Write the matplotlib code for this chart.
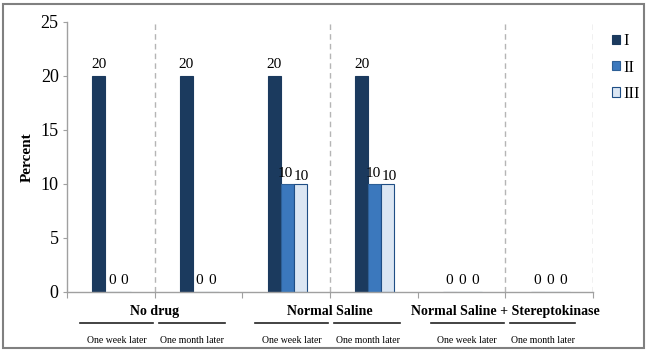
import matplotlib
matplotlib.use("Agg")
import matplotlib.pyplot as plt
from matplotlib.patches import Rectangle
import numpy as np

plt.rcParams['font.family'] = ['Liberation Serif', 'DejaVu Serif']

groups = ["No drug", "Normal Saline", "Normal Saline + Stereptokinase"]
times = ["One week later", "One month later"]
series_names = ["I", "II", "III"]
vals_I = [20, 20, 20, 20, 0, 0]
vals_II = [0, 0, 10, 10, 0, 0]
vals_III = [0, 0, 10, 10, 0, 0]
y_ticks = [0, 5, 10, 15, 20, 25]

colors = ["#1b3a5e", "#3b78bd", "#dbe6f3"]
edges = ["#1b3a5e", "#2d5f96", "#1f4e85"]

fig = plt.figure(figsize=(6.47, 3.5), dpi=100)
ax = fig.add_axes([67/647, 1-292/350, (593-67)/647, (292-22)/350])

n = len(vals_I)
x = np.arange(n)
w = 0.148
for k, (vals, name) in enumerate(zip([vals_I, vals_II, vals_III], series_names)):
    xs = x + (k - 1) * w + 0.01
    ax.bar(xs, vals, w, color=colors[k], edgecolor=edges[k], linewidth=0.8, label=name)
    for xi, v in zip(xs, vals):
        if k == 1 and v == 10:
            ax.text(xi - 0.02, v + 0.35, str(v), ha='center', va='bottom', fontsize=11)
        elif k == 2 and v == 10:
            ax.text(xi + 0.02, v + 0.05, str(v), ha='center', va='bottom', fontsize=11)
        else:
            ax.text(xi, v + 0.45, str(v), ha='center', va='bottom', fontsize=11)

ax.set_xlim(-0.5, n - 0.5)
ax.set_ylim(0, 25)
ax.set_yticks(y_ticks)
ax.set_yticklabels([str(t) for t in y_ticks], fontsize=13)
ax.set_xticks(np.arange(-0.5, n, 1.0))
ax.set_xticklabels([])
ax.tick_params(axis='x', length=4, color='#a0a0a0', direction='out')
ax.tick_params(axis='y', length=3, color='#a0a0a0', pad=3)
ax.set_ylabel("Percent", fontsize=11, fontweight='bold', labelpad=5)

for s in ['top', 'right']:
    ax.spines[s].set_visible(False)
for s in ['left', 'bottom']:
    ax.spines[s].set_color('#a0a0a0')
    ax.spines[s].set_linewidth(1.0)

for xv in [0.5, 2.5, 4.5, 5.5]:
    ax.axvline(xv, color='#b5b5b5', linestyle=(0, (4, 3)), linewidth=1.0, zorder=0)

trans = ax.get_xaxis_transform()
for gi, g in enumerate(groups):
    base = 2 * gi
    ax.text(base + 0.5, -0.072, g, transform=trans, ha='center', va='center',
            fontsize=10, fontweight='bold', clip_on=False)
    ax.plot([base - 0.35, base + 0.48], [-0.115, -0.115], transform=trans,
            color='#222222', lw=1.2, clip_on=False)
    ax.plot([base + 0.55, base + 1.3], [-0.115, -0.115], transform=trans,
            color='#222222', lw=1.2, clip_on=False)
    ax.text(base + 0.065, -0.178, times[0], transform=trans, ha='center', va='center',
            fontsize=7, clip_on=False)
    ax.text(base + 0.93, -0.178, times[1], transform=trans, ha='center', va='center',
            fontsize=7, clip_on=False)

leg = fig.legend(loc='upper left', bbox_to_anchor=(0.946, 0.905), frameon=False,
                 fontsize=12, handlelength=0.5, handleheight=0.5, handletextpad=0.15,
                 labelspacing=0.62, borderaxespad=0, borderpad=0)

fig.patches.append(Rectangle((0.005, 0.006), 0.991, 0.984, transform=fig.transFigure,
                             fill=False, edgecolor='#808080', linewidth=1.5))

fig.savefig("out.png", dpi=100)
